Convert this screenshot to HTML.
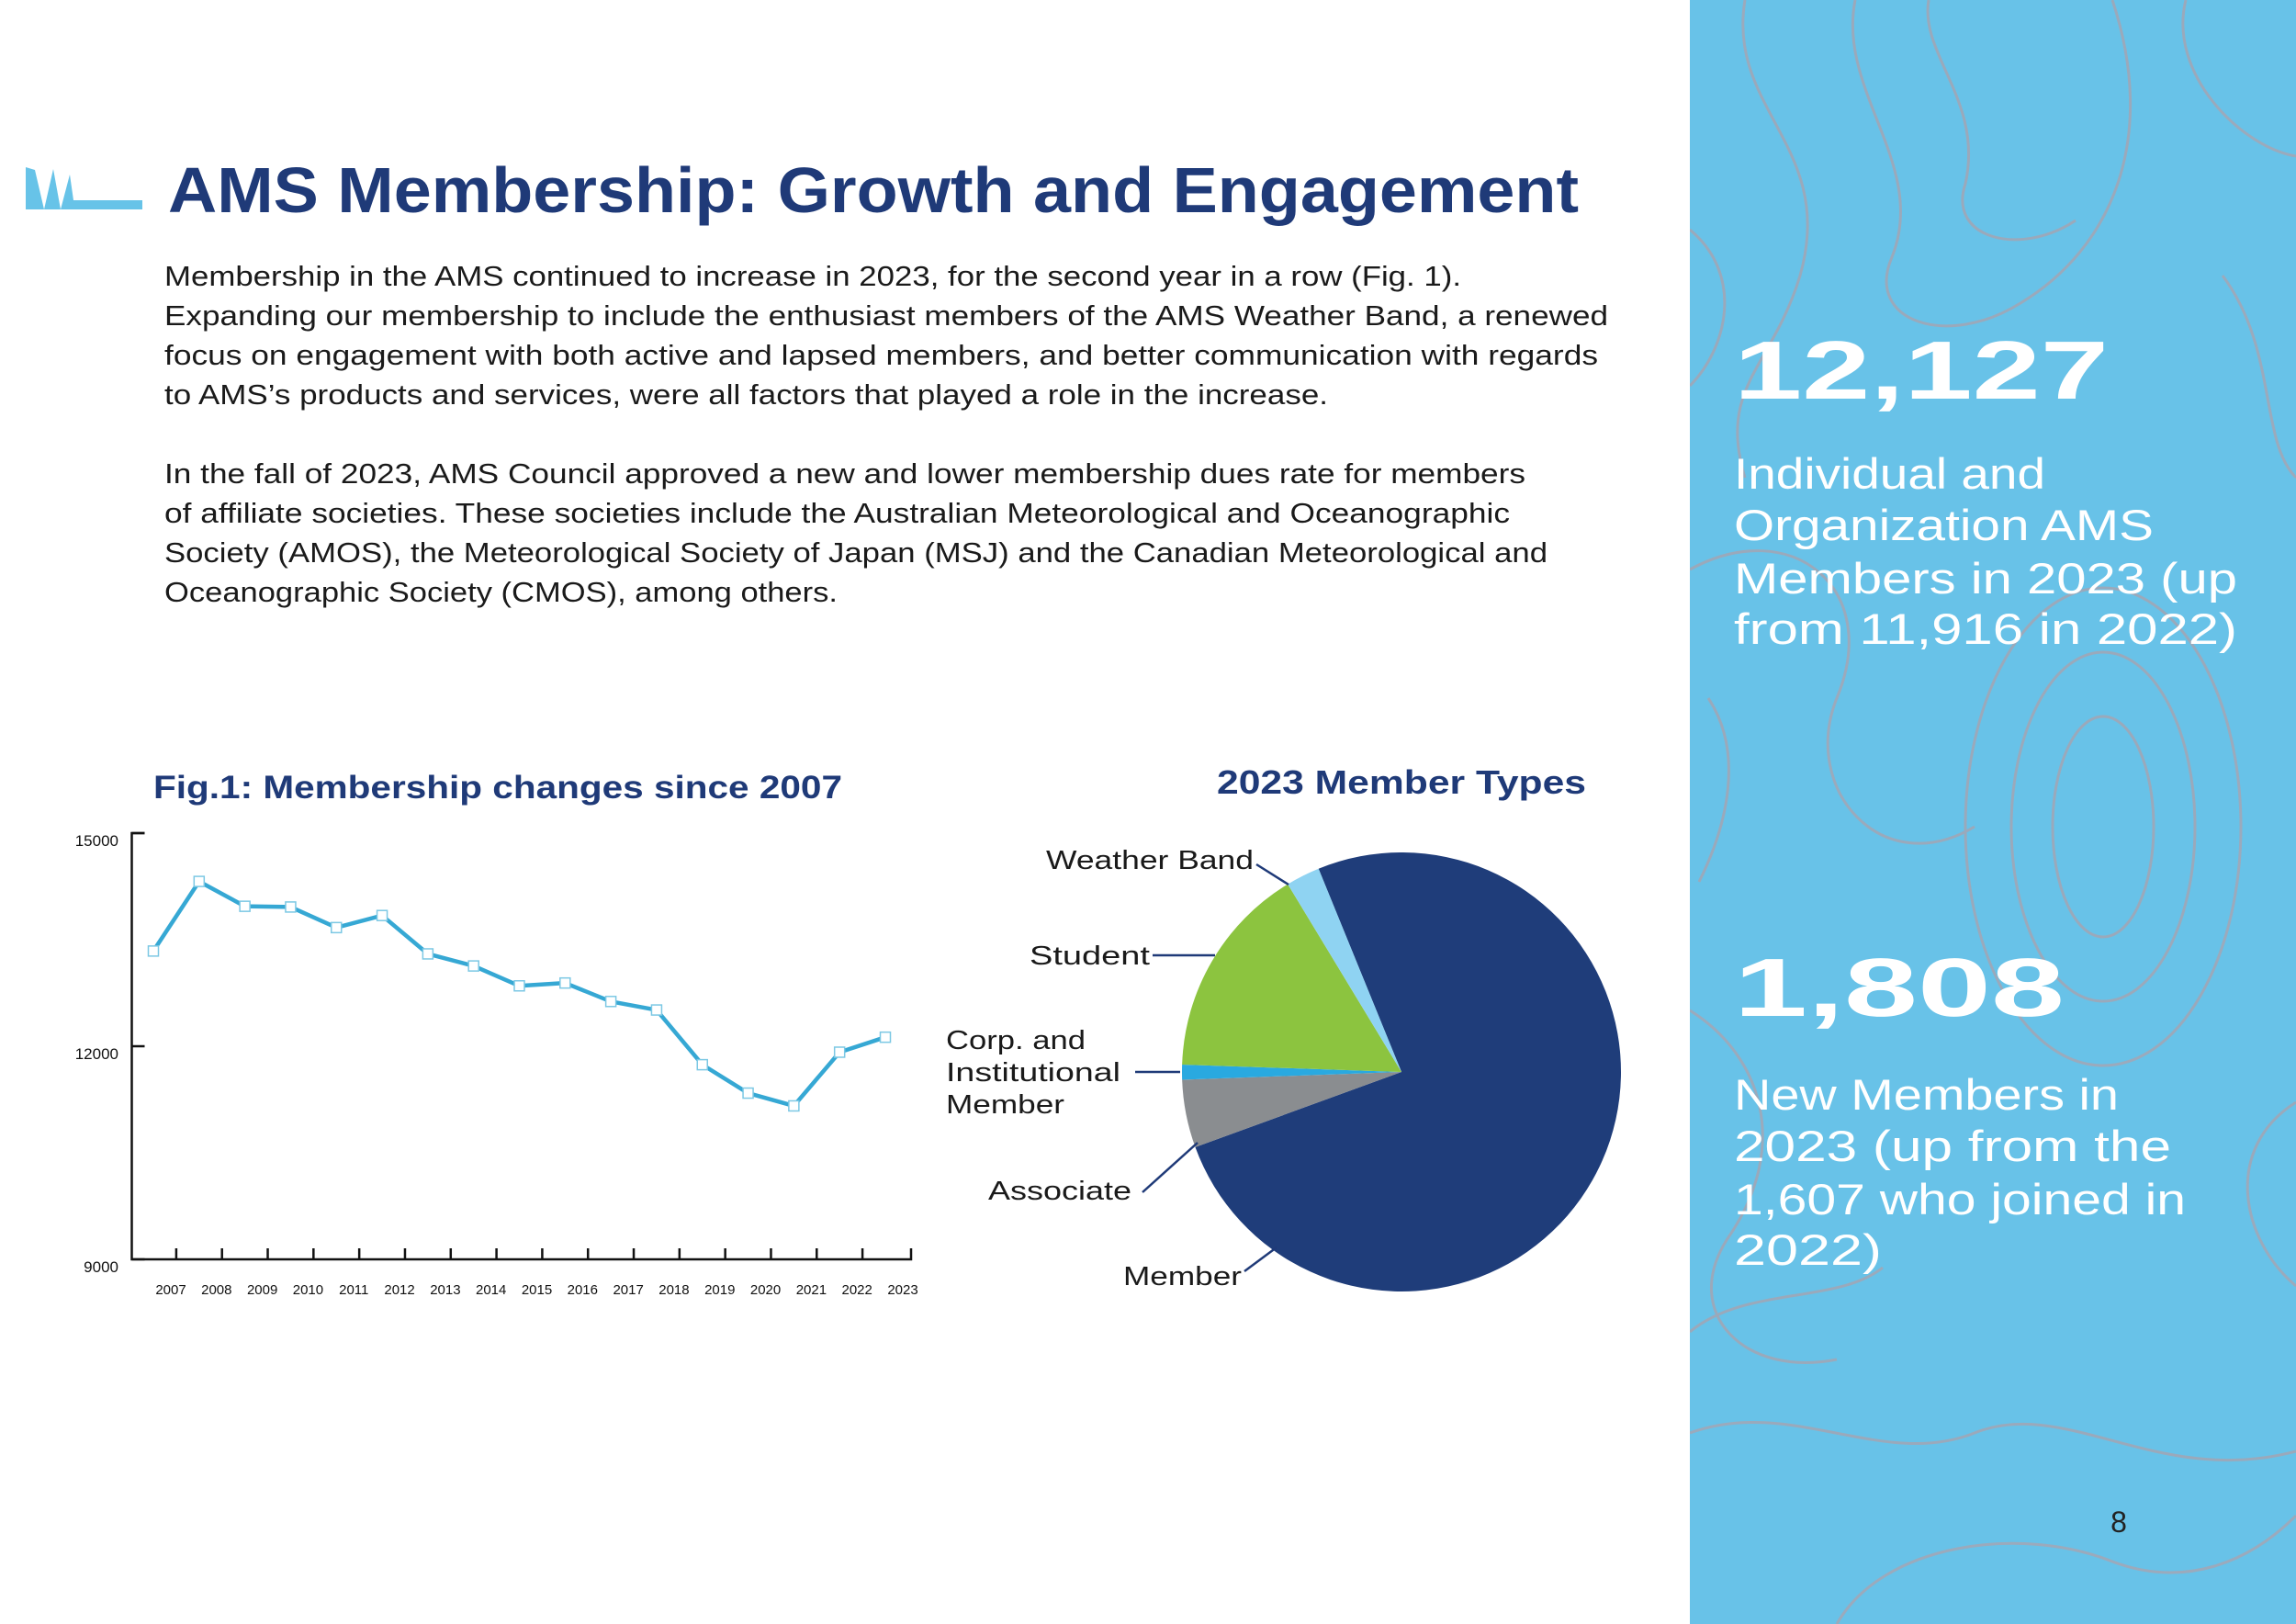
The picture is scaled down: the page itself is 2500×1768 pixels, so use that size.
<!DOCTYPE html>
<html><head><meta charset="utf-8"><style>
html,body{margin:0;padding:0;background:#fff}
svg{display:block}
text{font-family:"Liberation Sans",sans-serif}
</style></head><body>
<svg id="page" width="2500" height="1768" viewBox="0 0 2500 1768">
<defs><clipPath id="pc"><rect x="1840" y="0" width="660" height="1768"/></clipPath></defs>
<rect x="1840" y="0" width="660" height="1768" fill="#68c2e8"/>
<g clip-path="url(#pc)" fill="none" stroke="#a7a4b0" stroke-width="3" opacity="0.8">
<path d="M1900 0 C1880 120 2000 160 1960 300 C1930 400 1870 420 1900 520"/>
<path d="M2020 0 C2000 100 2100 180 2060 280 C2030 350 2120 380 2200 330 C2300 270 2350 150 2300 0"/>
<path d="M2380 0 C2360 80 2440 160 2500 170"/>
<path d="M1840 620 C1950 560 2050 640 2000 760 C1960 860 2050 960 2150 900"/>
<ellipse cx="2290" cy="900" rx="150" ry="260"/>
<ellipse cx="2290" cy="900" rx="100" ry="190"/>
<ellipse cx="2290" cy="900" rx="55" ry="120"/>
<path d="M1840 1100 C1920 1150 1950 1250 1880 1350 C1830 1430 1900 1500 2000 1480"/>
<path d="M1840 1560 C1950 1520 2050 1600 2150 1560 C2250 1520 2350 1620 2500 1580"/>
<path d="M2000 1768 C2050 1680 2200 1660 2300 1700 C2380 1730 2450 1700 2500 1650"/>
<path d="M2420 300 C2480 380 2460 480 2500 520"/>
<path d="M1860 760 C1900 820 1880 900 1850 960"/>
<path d="M2100 0 C2090 60 2160 110 2140 200 C2120 260 2200 280 2260 240"/>
<path d="M1840 250 C1900 300 1880 380 1840 420"/>
<path d="M2500 1200 C2420 1250 2440 1350 2500 1400"/>
<path d="M1840 1450 C1900 1400 2000 1420 2050 1380"/>
</g>
<text x="1888" y="434" font-size="90" font-weight="bold" fill="#fff" textLength="408" lengthAdjust="spacingAndGlyphs">12,127</text>
<g fill="#fff" font-size="47">
<text x="1888" y="532" textLength="339" lengthAdjust="spacingAndGlyphs">Individual and</text>
<text x="1888" y="588" textLength="457" lengthAdjust="spacingAndGlyphs">Organization AMS</text>
<text x="1888" y="646" textLength="548" lengthAdjust="spacingAndGlyphs">Members in 2023 (up</text>
<text x="1888" y="701" textLength="548" lengthAdjust="spacingAndGlyphs">from 11,916 in 2022)</text>
</g>
<text x="1888" y="1106" font-size="90" font-weight="bold" fill="#fff" textLength="360" lengthAdjust="spacingAndGlyphs">1,808</text>
<g fill="#fff" font-size="47">
<text x="1888" y="1208" textLength="419" lengthAdjust="spacingAndGlyphs">New Members in</text>
<text x="1888" y="1264" textLength="476" lengthAdjust="spacingAndGlyphs">2023 (up from the</text>
<text x="1888" y="1322" textLength="492" lengthAdjust="spacingAndGlyphs">1,607 who joined in</text>
<text x="1888" y="1377" textLength="161" lengthAdjust="spacingAndGlyphs">2022)</text>
</g>
<text x="2307" y="1668" font-size="32" fill="#222" text-anchor="middle">8</text>

<g fill="#67c3e8">
<polygon points="28,182 28,228 48,228 38,185"/>
<polygon points="48,228 58,184 66,228"/>
<polygon points="66,228 76,190 80,218 155,218 155,228"/>
</g>
<text x="183" y="231" font-size="70" font-weight="bold" fill="#1f3a78" textLength="1536" lengthAdjust="spacingAndGlyphs">AMS Membership: Growth and Engagement</text>
<g font-size="31" fill="#1a1a1a">
<text x="179" y="311" textLength="1412" lengthAdjust="spacingAndGlyphs">Membership in the AMS continued to increase in 2023, for the second year in a row (Fig. 1).</text>
<text x="179" y="354" textLength="1572" lengthAdjust="spacingAndGlyphs">Expanding our membership to include the enthusiast members of the AMS Weather Band, a renewed</text>
<text x="179" y="397" textLength="1561" lengthAdjust="spacingAndGlyphs">focus on engagement with both active and lapsed members, and better communication with regards</text>
<text x="179" y="440" textLength="1267" lengthAdjust="spacingAndGlyphs">to AMS’s products and services, were all factors that played a role in the increase.</text>
</g>
<g font-size="31" fill="#1a1a1a">
<text x="179" y="526" textLength="1482" lengthAdjust="spacingAndGlyphs">In the fall of 2023, AMS Council approved a new and lower membership dues rate for members</text>
<text x="179" y="569" textLength="1465" lengthAdjust="spacingAndGlyphs">of affiliate societies. These societies include the Australian Meteorological and Oceanographic</text>
<text x="179" y="612" textLength="1506" lengthAdjust="spacingAndGlyphs">Society (AMOS), the Meteorological Society of Japan (MSJ) and the Canadian Meteorological and</text>
<text x="179" y="655" textLength="733" lengthAdjust="spacingAndGlyphs">Oceanographic Society (CMOS), among others.</text>
</g>

<text x="167" y="869" font-size="35" font-weight="bold" fill="#1f3a78" textLength="750" lengthAdjust="spacingAndGlyphs">Fig.1: Membership changes since 2007</text>
<g id="linechart"></g>

<text x="1325" y="864" font-size="36" font-weight="bold" fill="#1f3a78" textLength="402" lengthAdjust="spacingAndGlyphs">2023 Member Types</text>
<g id="piechart"></g>
<g font-size="29" fill="#1a1a1a">
<text x="1139" y="946" textLength="226" lengthAdjust="spacingAndGlyphs">Weather Band</text>
<text x="1121" y="1050" textLength="131" lengthAdjust="spacingAndGlyphs">Student</text>
<text x="1030" y="1142" textLength="152" lengthAdjust="spacingAndGlyphs">Corp. and</text>
<text x="1030" y="1177" textLength="190" lengthAdjust="spacingAndGlyphs">Institutional</text>
<text x="1030" y="1212" textLength="129" lengthAdjust="spacingAndGlyphs">Member</text>
<text x="1076" y="1306" textLength="156" lengthAdjust="spacingAndGlyphs">Associate</text>
<text x="1223" y="1399" textLength="129" lengthAdjust="spacingAndGlyphs">Member</text>
</g>
<g stroke="#1f3a78" stroke-width="2.5">
<line x1="1368" y1="941" x2="1403" y2="963"/>
<line x1="1255" y1="1040" x2="1323" y2="1040"/>
<line x1="1236" y1="1167" x2="1285" y2="1167"/>
<line x1="1244" y1="1298" x2="1304" y2="1244"/>
<line x1="1355" y1="1384" x2="1390" y2="1358"/>
</g>
</svg>
<script>
const years = [2007,2008,2009,2010,2011,2012,2013,2014,2015,2016,2017,2018,2019,2020,2021,2022,2023];
const members = [13340,14320,13970,13960,13670,13840,13300,13130,12850,12890,12630,12510,11740,11340,11160,11916,12127];
const yTicks = [15000,12000,9000];
const pieCategories = ["Member","Associate","Corp. and Institutional Member","Student","Weather Band"];
const pieValues = [75.6,5.0,1.1,15.8,2.5];
const pieColors = ["#1f3d7a","#8a8d90","#29a9e0","#8cc43f","#8fd3f2"];

const NS="http://www.w3.org/2000/svg";
function mk(tag,attrs,parent){const e=document.createElementNS(NS,tag);for(const k in attrs)e.setAttribute(k,attrs[k]);parent.appendChild(e);return e;}
const lc=document.getElementById('linechart');
const X0=143.5,X1=992,Y15=907,Y9=1371;
const yScale=v=>Y9-(v-9000)/6000*(Y9-Y15);
const step=(964-167)/(years.length-1);
const xScale=i=>167+i*step;
const axis=mk('path',{d:`M${X0+14} ${Y15} H${X0} V${Y9} H${X1} V${Y9-12}`,fill:'none',stroke:'#111','stroke-width':2.5},lc);


yTicks.forEach(t=>{
  const tk=mk('line',{x1:X0,x2:X0+14,y1:yScale(t),y2:yScale(t),stroke:'#111','stroke-width':2.5},lc);
  
  
  const tx=mk('text',{x:129,y:yScale(t)+14,'font-size':17,'text-anchor':'end',fill:'#111'},lc);
  tx.textContent=t;
  
  
});
years.forEach((y,i)=>{
  const tx=xScale(i)+step/2;
  if(i<years.length-1){
    const tk=mk('line',{x1:tx,x2:tx,y1:Y9,y2:Y9-12,stroke:'#111','stroke-width':2.5},lc);
    
    
  }
  const lb=mk('text',{x:xScale(i)+19,y:1409,'font-size':15,'text-anchor':'middle',fill:'#111'},lc);
  lb.textContent=y;
  
  
});
const pts=members.map((v,i)=>`${xScale(i)},${yScale(v)}`).join(' ');
const pl=mk('polyline',{points:pts,fill:'none',stroke:'#36a8d4','stroke-width':4.5,'stroke-linejoin':'round'},lc);


members.forEach((v,i)=>{
  const r=mk('rect',{x:xScale(i)-5.5,y:yScale(v)-5.5,width:11,height:11,fill:'#fff',stroke:'#7cc8e4','stroke-width':1.5},lc);
  
  
});
const pc=document.getElementById('piechart');
const cx=1526,cy=1167,R=239;
const total=pieValues.reduce((a,b)=>a+b,0);
let ang=-22.2;
pieValues.forEach((v,i)=>{
  const a0=ang*Math.PI/180, a1=(ang+v/total*360)*Math.PI/180;
  ang+=v/total*360;
  const x0=cx+R*Math.sin(a0),y0=cy-R*Math.cos(a0),x1=cx+R*Math.sin(a1),y1=cy-R*Math.cos(a1);
  const large=(a1-a0)>Math.PI?1:0;
  const p=mk('path',{d:`M${cx} ${cy} L${x0} ${y0} A${R} ${R} 0 ${large} 1 ${x1} ${y1} Z`,fill:pieColors[i]},pc);
  
  
});
</script>
</body></html>
